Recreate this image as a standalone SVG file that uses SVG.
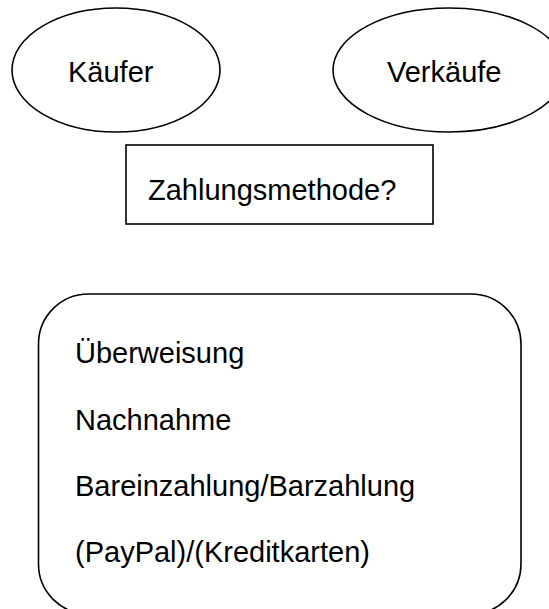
<svg xmlns="http://www.w3.org/2000/svg" width="549" height="609" viewBox="0 0 549 609">
<style>
.shape{fill:#ffffff;stroke:#000000;stroke-width:1.6}
.lbl{font-family:"Liberation Sans",Arial,sans-serif;font-size:29px;fill:#000000}
</style>
<rect x="0" y="0" width="549" height="609" fill="#ffffff"/>
<g id="connectors"></g>
<g id="kaeufer">
<ellipse class="shape" cx="116" cy="70" rx="104" ry="62"/>
<text class="lbl" x="68" y="82">Käufer</text>
</g>
<g id="verkaeufer">
<ellipse class="shape" cx="449" cy="70" rx="116" ry="62"/>
<text class="lbl" x="387" y="82">Verkäufe</text>
</g>
<g id="zahlungsmethode">
<rect class="shape" x="126" y="145" width="307" height="79"/>
<text class="lbl" x="148" y="200">Zahlungsmethode?</text>
</g>
<g id="methoden">
<rect class="shape" x="38.5" y="294" width="482.5" height="320" rx="50" ry="50"/>
<text class="lbl" x="75" y="363">Überweisung</text>
<text class="lbl" x="75" y="430">Nachnahme</text>
<text class="lbl" x="75" y="496">Bareinzahlung/Barzahlung</text>
<text class="lbl" x="75" y="562">(PayPal)/(Kreditkarten)</text>
</g>
</svg>
